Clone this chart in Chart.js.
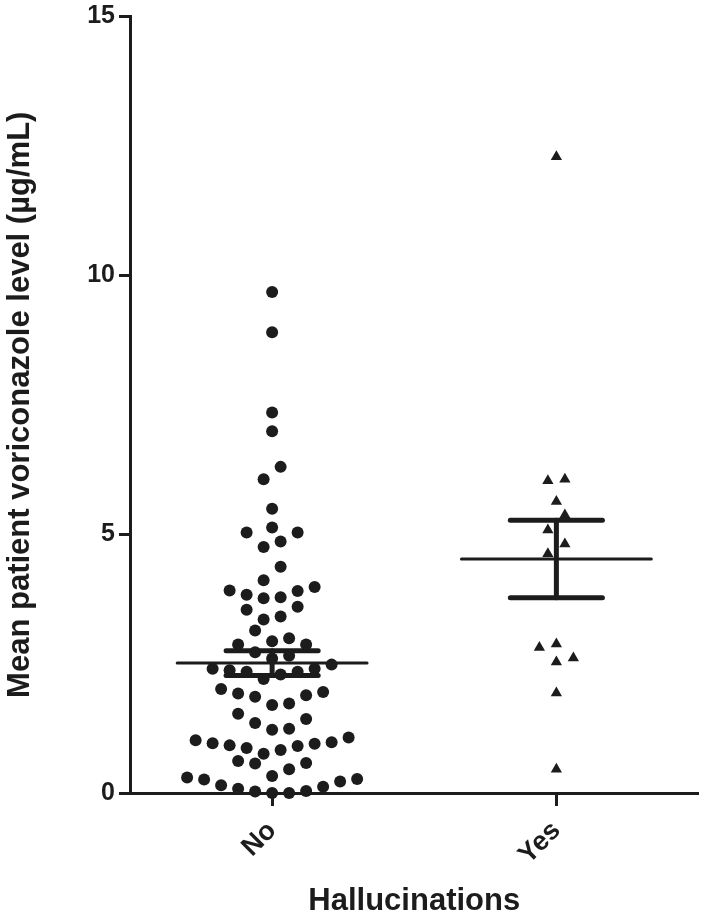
<!DOCTYPE html>
<html>
<head>
<meta charset="utf-8">
<script src="https://cdn.jsdelivr.net/npm/chart.js@4.4.0/dist/chart.umd.min.js"></script>
<style>
  html, body { margin: 0; padding: 0; background: #fff; }
  #wrap { width: 705px; height: 917px; }
</style>
</head>
<body>
<div id="wrap"><canvas id="chart" width="705" height="917"></canvas></div>
<script>
// Groups on the x axis
const groups = ['No', 'Yes'];

// Mean voriconazole level per patient (ug/mL)
const noValues = [
  9.68, 8.90, 7.35, 6.99, 6.30, 6.06, 5.49,
  5.03, 5.13, 5.03, 4.86, 4.75, 4.37, 4.11, 3.98, 3.90, 3.78, 3.76, 3.83, 3.91,
  3.54, 3.60, 3.35, 3.41, 3.14, 2.99, 2.87, 2.93, 2.87, 2.72, 2.65, 2.60,
  2.48, 2.40, 2.34, 2.29, 2.20, 2.34, 2.37, 2.40, 2.01, 1.92, 1.86, 1.70, 1.73,
  1.89, 1.95, 1.43, 1.24, 1.22, 1.35, 1.53, 1.02, 0.95, 0.92, 0.87, 0.76, 0.83,
  0.91, 0.96, 0.98, 1.07, 0.58, 0.46, 0.57, 0.62, 0.33, 0.30, 0.26, 0.15, 0.08,
  0.04, 0.00, 0.00, 0.03, 0.12, 0.22, 0.27
];
const yesValues = [
  12.29, 6.06, 6.03, 5.63, 5.37, 5.08, 4.81, 4.62,
  2.81, 2.88, 2.53, 2.61, 1.93, 0.46
];

// mean +/- SEM for each group
const groupMeans = [2.51, 4.52];
const groupSem = [0.24, 0.75];

const yTicks = [0, 5, 10, 15];

const INK = '#1c1c1c';
const FONT = '"Liberation Sans", Arial, Helvetica, sans-serif';

// widths of the summary bars, in x-axis units
const MEAN_HALF = 0.334;
const CAP_HALF = 0.162;

function segment(x1, y1, x2, y2, width) {
  return {
    type: 'scatter',
    showLine: true,
    data: [{ x: x1, y: y1 }, { x: x2, y: y2 }],
    borderColor: INK,
    borderWidth: width,
    borderCapStyle: 'round',
    pointRadius: 0,
    clip: false
  };
}

const summarySets = [];
groups.forEach((g, i) => {
  const m = groupMeans[i], s = groupSem[i];
  summarySets.push(segment(i - MEAN_HALF, m, i + MEAN_HALF, m, 3));
  summarySets.push(segment(i - CAP_HALF, m + s, i + CAP_HALF, m + s, 5));
  summarySets.push(segment(i - CAP_HALF, m - s, i + CAP_HALF, m - s, 5));
  summarySets.push(segment(i, m - s, i, m + s, 5));
});

const ctx = document.getElementById('chart').getContext('2d');
const chart = new Chart(ctx, {
  type: 'scatter',
  data: {
    datasets: [
      {
        label: 'No',
        data: noValues.map(v => ({ x: 0, y: v })),
        pointStyle: 'circle',
        pointRadius: 6,
        backgroundColor: INK,
        borderWidth: 0,
        clip: false
      },
      {
        label: 'Yes',
        data: yesValues.map(v => ({ x: 1, y: v })),
        pointStyle: 'triangle',
        pointRadius: 6.5,
        backgroundColor: INK,
        borderWidth: 0,
        clip: false
      },
      ...summarySets
    ]
  },
  options: {
    responsive: false,
    animation: false,
    devicePixelRatio: 1,
    layout: { padding: { top: 14, right: 2, left: 0, bottom: 0 } },
    plugins: {
      legend: { display: false },
      tooltip: { enabled: false }
    },
    scales: {
      x: {
        type: 'linear',
        min: -0.5,
        max: 1.5,
        afterBuildTicks: axis => { axis.ticks = groups.map((g, i) => ({ value: i })); },
        afterFit: axis => { axis.height = 124; },
        ticks: {
          callback: v => groups[v],
          minRotation: 45,
          maxRotation: 45,
          padding: 9,
          color: INK,
          font: { family: FONT, size: 27, weight: 'bold' }
        },
        grid: { drawOnChartArea: false, drawTicks: true, tickLength: 13, tickWidth: 3, tickColor: INK },
        border: { display: true, width: 3, color: INK },
        title: {
          display: true,
          text: 'Hallucinations',
          color: INK,
          padding: { top: 0, bottom: 0 },
          font: { family: FONT, size: 31, weight: 'bold', lineHeight: 1 }
        }
      },
      y: {
        min: 0,
        max: 15,
        afterBuildTicks: axis => { axis.ticks = yTicks.map(v => ({ value: v })); },
        afterFit: axis => { axis.width = 130; },
        ticks: {
          padding: 4,
          color: INK,
          font: { family: FONT, size: 25, weight: 'bold', lineHeight: 1 }
        },
        grid: { drawOnChartArea: false, drawTicks: true, tickLength: 11, tickWidth: 3, tickColor: INK },
        border: { display: true, width: 3, color: INK },
        title: {
          display: true,
          text: 'Mean patient voriconazole level (µg/mL)',
          color: INK,
          padding: { top: 2, bottom: 0 },
          font: { family: FONT, size: 31, weight: 'bold' }
        }
      }
    }
  }
});

// Column scatter: values are binned into rows about one dot high,
// and each row is spread sideways from the group centre.
const ROW_PX = 16.5;
const STEP = 17;

function swarm(values, center) {
  const xs = chart.scales.x, ys = chart.scales.y;
  const cx = xs.getPixelForValue(center);
  const rows = [];
  values.slice().sort((a, b) => a - b).forEach(v => {
    const py = ys.getPixelForValue(v);
    const row = rows[rows.length - 1];
    if (row && row.start - py < ROW_PX) row.items.push(v);
    else rows.push({ start: py, items: [v] });
  });
  const out = [];
  rows.forEach(row => {
    const n = row.items.length;
    row.items.forEach((v, j) => {
      let off;
      if (n % 2) {
        const k = Math.ceil(j / 2);
        off = j === 0 ? 0 : (j % 2 ? k : -k) * STEP;
      } else {
        const k = Math.floor(j / 2);
        off = (j % 2 ? 1 : -1) * (k + 0.5) * STEP;
      }
      out.push({ x: xs.getValueForPixel(cx + off), y: v });
    });
  });
  return out;
}

chart.data.datasets[0].data = swarm(noValues, 0);
chart.data.datasets[1].data = swarm(yesValues, 1);
chart.update('none');
</script>
</body>
</html>
